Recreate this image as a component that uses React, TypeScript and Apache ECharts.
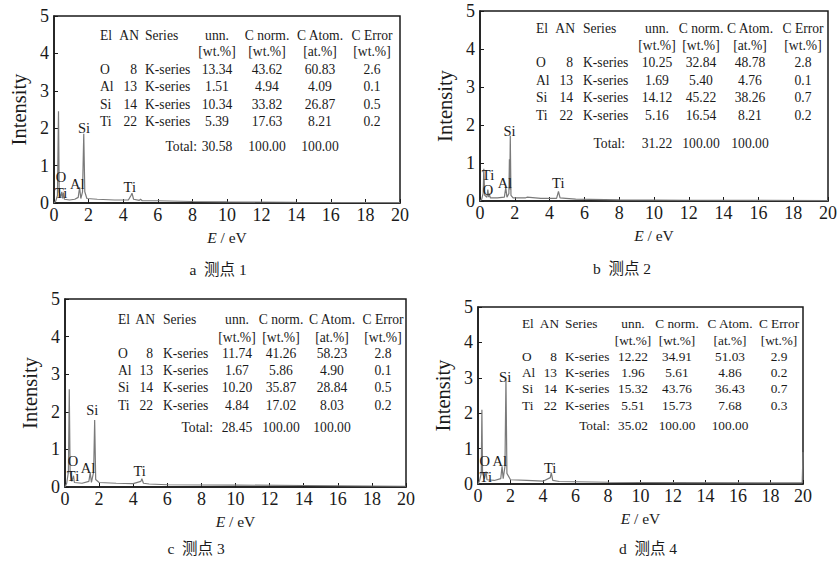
import React, { useEffect, useRef } from "react";
import * as echarts from "echarts";

// ---------- data ----------
const elements = ["O", "Al", "Si", "Ti"];
const atomicNumbers = ["8", "13", "14", "22"];
const lineFamily = "K-series";
const headerTop = ["unn.", "C norm.", "C Atom.", "C Error"];
const headerUnits = ["[wt.%]", "[wt.%]", "[at.%]", "[wt.%]"];
const captions = ["a  测点 1", "b  测点 2", "c  测点 3", "d  测点 4"];

// spectra [E (eV), intensity]
const spectrumA = [
  [0, 0], [0.1, 0.05], [0.2, 0.2], [0.26, 2.45], [0.3, 0.3], [0.38, 0.15], [0.45, 0.3], [0.5, 0.12],
  [0.55, 0.28], [0.6, 0.1], [0.9, 0.08], [1.2, 0.1], [1.4, 0.15], [1.48, 0.42], [1.55, 0.12],
  [1.65, 0.3], [1.72, 1.85], [1.78, 0.3], [1.9, 0.12], [2.5, 0.1], [3.5, 0.08], [4.3, 0.08],
  [4.45, 0.2], [4.51, 0.26], [4.6, 0.1], [4.93, 0.07], [5.0, 0.1], [5.1, 0.06], [6, 0.06],
  [8, 0.04], [10, 0.03], [14, 0.02], [20, 0.01],
];
const spectrumB = [
  [0, 0], [0.1, 0.05], [0.18, 0.2], [0.22, 0.85], [0.27, 0.15], [0.4, 0.1], [0.45, 0.3], [0.5, 0.1],
  [0.52, 0.2], [0.6, 0.08], [1.0, 0.08], [1.4, 0.1], [1.48, 0.35], [1.55, 0.1], [1.66, 0.2],
  [1.69, 1.1], [1.71, 0.3], [1.74, 1.72], [1.78, 0.15], [1.9, 0.08], [2.6, 0.08], [2.7, 0.1],
  [3.5, 0.07], [4.4, 0.07], [4.51, 0.25], [4.6, 0.08], [4.93, 0.07], [5.5, 0.05], [8, 0.03],
  [12, 0.02], [20, 0.01],
];
const spectrumC = [
  [0, 0], [0.1, 0.1], [0.2, 0.4], [0.25, 2.6], [0.3, 0.4], [0.4, 0.15], [0.5, 0.3], [0.55, 0.12],
  [1.0, 0.1], [1.4, 0.15], [1.48, 0.38], [1.55, 0.12], [1.68, 0.4], [1.74, 1.78], [1.8, 0.2],
  [2.0, 0.12], [3, 0.1], [4, 0.09], [4.45, 0.15], [4.51, 0.22], [4.6, 0.1], [4.93, 0.08],
  [6, 0.06], [10, 0.05], [14, 0.04], [20, 0.02],
];
const spectrumD = [
  [0, 0], [0.1, 0.1], [0.2, 0.3], [0.24, 2.1], [0.28, 0.3], [0.4, 0.15], [0.5, 0.35], [0.55, 0.12],
  [1.0, 0.1], [1.4, 0.15], [1.48, 0.5], [1.55, 0.15], [1.66, 0.5], [1.72, 3.0], [1.78, 0.3],
  [2.0, 0.12], [3.0, 0.1], [4.0, 0.08], [4.45, 0.18], [4.51, 0.32], [4.6, 0.1], [5, 0.07],
  [8, 0.05], [12, 0.04], [19.95, 0.03], [20, 0.9],
];

// peak labels [text, E, intensity]
const peaksA = [["Si", 1.74, 2.0], ["O", 0.41, 0.7], ["Ti", 0.41, 0.28], ["Al", 1.34, 0.5], ["Ti", 4.38, 0.42]];
const peaksB = [["Si", 1.7, 1.85], ["Ti", 0.46, 0.68], ["O", 0.46, 0.3], ["Al", 1.43, 0.47], ["Ti", 4.5, 0.47]];
const peaksC = [["Si", 1.6, 2.05], ["O", 0.47, 0.7], ["Ti", 0.47, 0.3], ["Al", 1.35, 0.5], ["Ti", 4.38, 0.43]];
const peaksD = [["Si", 1.67, 3.03], ["O", 0.41, 0.66], ["Ti", 0.48, 0.2], ["Al", 1.34, 0.66], ["Ti", 4.44, 0.44]];

// y-axis tick values
const yTicks = [0, 1, 2, 3, 4, 5];

// composition tables
const unnA = ["13.34", "1.51", "10.34", "5.39"];
const normA = ["43.62", "4.94", "33.82", "17.63"];
const atomA = ["60.83", "4.09", "26.87", "8.21"];
const errA = ["2.6", "0.1", "0.5", "0.2"];
const totalA = ["30.58", "100.00", "100.00"];

const unnB = ["10.25", "1.69", "14.12", "5.16"];
const normB = ["32.84", "5.40", "45.22", "16.54"];
const atomB = ["48.78", "4.76", "38.26", "8.21"];
const errB = ["2.8", "0.1", "0.7", "0.2"];
const totalB = ["31.22", "100.00", "100.00"];

const unnC = ["11.74", "1.67", "10.20", "4.84"];
const normC = ["41.26", "5.86", "35.87", "17.02"];
const atomC = ["58.23", "4.90", "28.84", "8.03"];
const errC = ["2.8", "0.1", "0.5", "0.2"];
const totalC = ["28.45", "100.00", "100.00"];

const unnD = ["12.22", "1.96", "15.32", "5.51"];
const normD = ["34.91", "5.61", "43.76", "15.73"];
const atomD = ["51.03", "4.86", "36.43", "7.68"];
const errD = ["2.9", "0.2", "0.7", "0.3"];
const totalD = ["35.02", "100.00", "100.00"];

// ---------- layout ----------
const SERIF = "Liberation Serif, serif";
const CAPTION_FONT = "Liberation Serif, Noto Sans CJK SC, serif";
const INK = "#1a1a1a";

const panels = [
  {
    box: { left: 0, top: 0 },
    grid: { left: 54, top: 16, width: 346, height: 187 },
    spectrum: spectrumA, peaks: peaksA,
    table: [unnA, normA, atomA, errA], total: totalA,
    caption: { x: 218, y: 269 },
    t: { el: 46, an: 85, ser: 91, cols: [163, 213, 266, 318], total: 143, rows: [19, 35.7, 53.3, 70.7, 88.3, 105.7, 130], fs: 13.6 },
  },
  {
    box: { left: 420, top: 0 },
    grid: { left: 480, top: 11, width: 351, height: 190 },
    spectrum: spectrumB, peaks: peaksB,
    table: [unnB, normB, atomB, errB], total: totalB,
    caption: { x: 622, y: 268 },
    t: { el: 56, an: 95, ser: 103, cols: [177, 221, 270, 323], total: 145, rows: [17, 34, 51, 69, 86, 104, 132], fs: 13.6 },
  },
  {
    box: { left: 0, top: 281 },
    grid: { left: 65, top: 299, width: 341, height: 188 },
    spectrum: spectrumC, peaks: peaksC,
    table: [unnC, normC, atomC, errC], total: totalC,
    caption: { x: 196, y: 548 },
    t: { el: 53, an: 90, ser: 98, cols: [172, 216, 267, 318], total: 148, rows: [20, 38, 54, 71, 88, 106, 128], fs: 13.6 },
  },
  {
    box: { left: 420, top: 281 },
    grid: { left: 478, top: 307, width: 325, height: 177 },
    spectrum: spectrumD, peaks: peaksD,
    table: [unnD, normD, atomD, errD], total: totalD,
    caption: { x: 648, y: 548 },
    t: { el: 44, an: 81, ser: 87, cols: [155, 199, 252, 301], total: 132, rows: [16, 33, 49, 65, 81, 98, 118], fs: 13.3 },
  },
];

function txt(x: number, y: number, text: string, fs: number, align: string = "left", family: string = SERIF) {
  return {
    type: "text",
    x,
    y,
    silent: true,
    style: {
      text,
      fill: INK,
      fontSize: fs,
      fontFamily: family,
      textAlign: align,
      textVerticalAlign: "middle",
      align,
      verticalAlign: "middle",
    },
  };
}

function buildOption(i: number) {
  const p = panels[i];
  const ox = p.box.left;
  const oy = p.box.top;
  const L = p.grid.left - ox;
  const T = p.grid.top - oy;
  const graphics: any[] = [];
  const t = p.t;
  const fs = t.fs;

  graphics.push(txt(L + t.el, T + t.rows[0], "El", fs));
  graphics.push(txt(L + t.an, T + t.rows[0], "AN", fs, "right"));
  graphics.push(txt(L + t.ser, T + t.rows[0], "Series", fs));
  headerTop.forEach((h, c) => graphics.push(txt(L + t.cols[c], T + t.rows[0], h, fs, "center")));
  headerUnits.forEach((h, c) => graphics.push(txt(L + t.cols[c], T + t.rows[1], h, fs, "center")));
  elements.forEach((el, r) => {
    const y = T + t.rows[2 + r];
    graphics.push(txt(L + t.el, y, el, fs));
    graphics.push(txt(L + t.an - 2, y, atomicNumbers[r], fs, "right"));
    graphics.push(txt(L + t.ser, y, lineFamily, fs));
    p.table.forEach((col, c) => graphics.push(txt(L + t.cols[c], y, col[r], fs, "center")));
  });
  const ty = T + t.rows[6];
  graphics.push(txt(L + t.total, ty, "Total:", fs, "right"));
  p.total.forEach((v, c) => graphics.push(txt(L + t.cols[c], ty, v, fs, "center")));
  graphics.push(txt(p.caption.x - ox, p.caption.y - oy, captions[i], 15.5, "center", CAPTION_FONT));

  return {
    animation: false,
    backgroundColor: "#ffffff",
    textStyle: { fontFamily: SERIF },
    grid: {
      left: L,
      top: T,
      width: p.grid.width,
      height: p.grid.height,
      show: true,
      borderColor: INK,
      borderWidth: 1.5,
      backgroundColor: "transparent",
    },
    xAxis: {
      type: "value",
      min: 0,
      max: 20,
      interval: 2,
      axisLine: { show: true, onZero: false, lineStyle: { color: INK, width: 1.5 } },
      axisTick: { show: true, inside: true, length: 4, lineStyle: { color: INK, width: 1 } },
      axisLabel: { color: INK, fontFamily: SERIF, fontSize: 18, margin: 3 },
      splitLine: { show: false },
      name: "{i|E} / eV",
      nameLocation: "middle",
      nameGap: 26,
      nameTextStyle: {
        color: INK,
        fontFamily: SERIF,
        fontSize: 15.5,
        rich: { i: { fontStyle: "italic", fontFamily: SERIF, fontSize: 15.5, color: INK } },
      },
    },
    yAxis: {
      type: "value",
      min: yTicks[0],
      max: yTicks[yTicks.length - 1],
      interval: 1,
      axisLine: { show: true, lineStyle: { color: INK, width: 1.5 } },
      axisTick: { show: true, inside: true, length: 4, lineStyle: { color: INK, width: 1 } },
      axisLabel: { color: INK, fontFamily: SERIF, fontSize: 18, margin: 5, hideOverlap: false },
      splitLine: { show: false },
      name: "Intensity",
      nameLocation: "middle",
      nameRotate: 90,
      nameGap: 25,
      nameTextStyle: { color: INK, fontFamily: SERIF, fontSize: 20.5 },
    },
    series: [
      {
        type: "line",
        data: p.spectrum,
        showSymbol: false,
        symbol: "none",
        lineStyle: { color: "#7a7a7a", width: 1.2 },
        markPoint: {
          symbol: "circle",
          symbolSize: 0,
          silent: true,
          label: {
            show: true,
            position: "inside",
            formatter: "{b}",
            color: INK,
            fontFamily: SERIF,
            fontSize: 14.5,
          },
          data: p.peaks.map((pk: any) => ({ name: pk[0], coord: [pk[1], pk[2]] })),
        },
      },
    ],
    graphic: graphics,
  };
}

function Panel({ index }: { index: number }) {
  const ref = useRef<HTMLDivElement>(null);
  useEffect(() => {
    if (!ref.current) return;
    const chart = echarts.init(ref.current, null, { renderer: "svg" });
    chart.setOption(buildOption(index) as any);
    return () => chart.dispose();
  }, [index]);
  const b = panels[index].box;
  return (
    <div
      ref={ref}
      style={{ position: "absolute", left: b.left, top: b.top, width: 420, height: 281 }}
    />
  );
}

export default function App() {
  return (
    <div
      style={{ position: "fixed", left: 0, top: 0, width: 840, height: 562, background: "#fff", overflow: "hidden" }}
    >
      {panels.map((_, i) => (
        <Panel key={i} index={i} />
      ))}
    </div>
  );
}
